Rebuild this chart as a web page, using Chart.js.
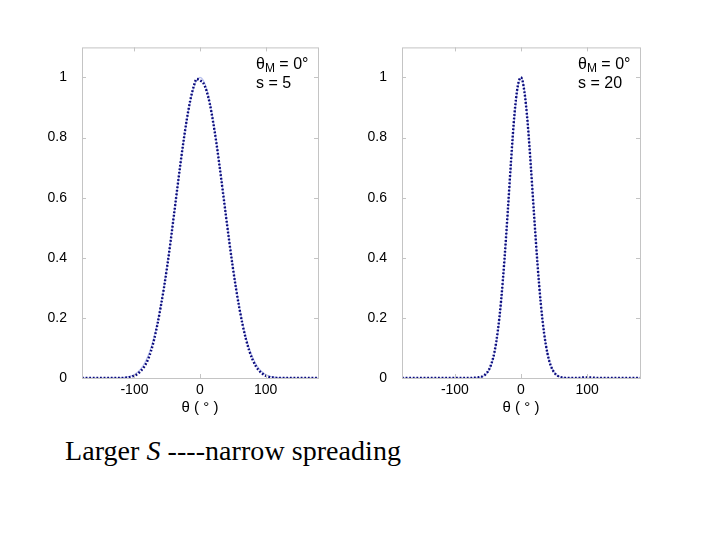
<!DOCTYPE html>
<html lang="en">
<head>
    <meta charset="UTF-8">
    <title>Directional spreading</title>
    <script src="https://cdn.jsdelivr.net/npm/chart.js"></script>
    <style>
        body {
            margin: 0;
            width: 720px;
            height: 540px;
            background: #fff;
            position: relative;
            overflow: hidden;
        }
        .panel {
            position: absolute;
            top: 32px;
            height: 398px;
        }
        #left { left: 30px; width: 300px; }
        #right { left: 350px; width: 302px; }
        .caption {
            position: absolute;
            left: 65px;
            top: 435px;
            font-family: "Liberation Serif", "Times New Roman", serif;
            font-size: 28px;
            letter-spacing: 0.05px;
            color: #000;
            white-space: nowrap;
        }
    </style>
</head>
<body>
    <div class="panel" id="left"><canvas id="chartLeft"></canvas></div>
    <div class="panel" id="right"><canvas id="chartRight"></canvas></div>
    <div class="caption">Larger <i>S</i> ----narrow spreading</div>

    <script>
        // direction angle (degrees)
        var angles = [-180, -175, -170, -165, -160, -155, -150, -145, -140, -135, -130, -125,
            -120, -115, -110, -105, -100, -95, -90, -85, -80, -75, -70, -65, -60, -55, -50,
            -45, -40, -35, -30, -25, -20, -15, -10, -5, 0, 5, 10, 15, 20, 25, 30, 35, 40, 45,
            50, 55, 60, 65, 70, 75, 80, 85, 90, 95, 100, 105, 110, 115, 120, 125, 130, 135,
            140, 145, 150, 155, 160, 165, 170, 175, 180];

        // s = 5 : reference curve (light) and estimate (dotted)
        var s5Theory = [0, 0, 0, 0, 0, 0, 0, 0, 0.0001, 0.0001, 0.0002, 0.0005,
            0.001, 0.002, 0.0039, 0.007, 0.012, 0.0198, 0.0313, 0.0475, 0.0696, 0.0988, 0.136, 0.1821, 0.2373, 0.3015, 0.3737,
            0.4531, 0.5368, 0.6226, 0.7071, 0.7868, 0.8581, 0.9176, 0.9626, 0.9905, 1, 0.9905, 0.9626, 0.9176, 0.8581, 0.7868, 0.7071, 0.6226, 0.5368, 0.4531,
            0.3737, 0.3015, 0.2373, 0.1821, 0.136, 0.0988, 0.0696, 0.0475, 0.0313, 0.0198, 0.012, 0.007, 0.0039, 0.002, 0.001, 0.0005, 0.0002, 0.0001,
            0.0001, 0, 0, 0, 0, 0, 0, 0, 0];
        var s5Estimate = [0, 0, 0, 0, 0, 0, 0, 0, 0, 0, 0, 0,
            0, 0.001, 0.002, 0.004, 0.008, 0.014, 0.024, 0.038, 0.058, 0.088, 0.128, 0.178, 0.236, 0.3, 0.372,
            0.452, 0.538, 0.625, 0.71, 0.79, 0.862, 0.922, 0.967, 0.995, 0.99, 0.982, 0.955, 0.912, 0.852, 0.782, 0.702, 0.618, 0.532, 0.448,
            0.369, 0.297, 0.233, 0.177, 0.13, 0.092, 0.062, 0.04, 0.025, 0.015, 0.008, 0.004, 0.002, 0.001, 0, 0, 0, 0,
            0, 0, 0, 0, 0, 0, 0, 0, 0];

        // s = 20
        var s20Theory = [0, 0, 0, 0, 0, 0, 0, 0, 0, 0, 0, 0,
            0, 0, 0, 0, 0, 0, 0, 0, 0, 0.0001, 0.0003, 0.0011, 0.0032, 0.0083, 0.0195,
            0.0421, 0.083, 0.1503, 0.25, 0.3832, 0.5422, 0.709, 0.8586, 0.9625, 1, 0.9625, 0.8586, 0.709, 0.5422, 0.3832, 0.25, 0.1503, 0.083, 0.0421,
            0.0195, 0.0083, 0.0032, 0.0011, 0.0003, 0.0001, 0, 0, 0, 0, 0, 0, 0, 0, 0, 0, 0, 0,
            0, 0, 0, 0, 0, 0, 0, 0, 0];
        var s20Estimate = [0, 0, 0, 0, 0, 0, 0, 0, 0, 0, 0, 0,
            0, 0, 0, 0, 0, 0, 0, 0, 0, 0, 0.001, 0.002, 0.004, 0.01, 0.022,
            0.046, 0.088, 0.158, 0.26, 0.395, 0.555, 0.725, 0.875, 0.97, 1, 0.955, 0.85, 0.7, 0.535, 0.378, 0.246, 0.148, 0.082, 0.041,
            0.019, 0.008, 0.003, 0.001, 0, 0, 0, 0, 0.001, 0.002, 0.002, 0.002, 0.001, 0, 0, 0, 0, 0,
            0, 0, 0, 0, 0, 0, 0, 0, 0];

        var xTicks = [-100, 0, 100];
        var yTicks = [0, 0.2, 0.4, 0.6, 0.8, 1];

        var sans = '"Liberation Sans", Arial, sans-serif';

        function toPoints(values) {
            return values.map(function (v, i) { return { x: angles[i], y: v }; });
        }

        // box, inward ticks, axis title and the label in the corner
        var framePlugin = {
            id: 'frame',
            afterDraw: function (chart) {
                var ctx = chart.ctx;
                var a = chart.chartArea;
                var xs = chart.scales.x, ys = chart.scales.y;
                ctx.save();
                ctx.strokeStyle = '#c4c4c4';
                ctx.lineWidth = 1;
                ctx.strokeRect(a.left + 0.5, a.top + 0.5, a.right - a.left, a.bottom - a.top);
                ctx.beginPath();
                xTicks.forEach(function (t) {
                    var px = Math.round(xs.getPixelForValue(t)) + 0.5;
                    ctx.moveTo(px, a.bottom); ctx.lineTo(px, a.bottom - 4);
                    ctx.moveTo(px, a.top); ctx.lineTo(px, a.top + 4);
                });
                yTicks.forEach(function (t) {
                    var py = Math.round(ys.getPixelForValue(t)) + 0.5;
                    ctx.moveTo(a.left, py); ctx.lineTo(a.left + 4, py);
                    ctx.moveTo(a.right, py); ctx.lineTo(a.right - 4, py);
                });
                ctx.stroke();

                ctx.fillStyle = '#000';
                ctx.textBaseline = 'middle';
                ctx.textAlign = 'center';
                ctx.font = '15px ' + sans;
                ctx.fillText('\u03b8 ( \u00b0 )', (a.left + a.right) / 2, a.bottom + 30);

                var lx = a.right - 62, ly = a.top + 17;
                ctx.textAlign = 'left';
                ctx.font = '16px ' + sans;
                ctx.fillText('\u03b8', lx, ly);
                var w = ctx.measureText('\u03b8').width;
                ctx.font = '12px ' + sans;
                ctx.fillText('M', lx + w, ly + 4);
                var w2 = ctx.measureText('M').width;
                ctx.font = '16px ' + sans;
                ctx.fillText(' = 0\u00b0', lx + w + w2, ly);
                ctx.fillText(chart.options.plugins.frame.label, lx, ly + 19);
                ctx.restore();
            }
        };

        function makeChart(id, theory, estimate, label) {
            return new Chart(document.getElementById(id), {
                type: 'line',
                data: {
                    datasets: [{
                        // dotted estimate, drawn on top
                        data: toPoints(estimate),
                        borderColor: '#0a0a7c',
                        borderWidth: 2.4,
                        borderDash: [1.8, 1.8],
                        pointRadius: 0,
                        cubicInterpolationMode: 'monotone'
                    }, {
                        data: toPoints(theory),
                        borderColor: '#b9c1ee',
                        borderWidth: 1.2,
                        pointRadius: 0,
                        cubicInterpolationMode: 'monotone'
                    }]
                },
                options: {
                    responsive: true,
                    maintainAspectRatio: false,
                    animation: false,
                    layout: { padding: { top: 4, right: 12, left: 0, bottom: 0 } },
                    plugins: {
                        legend: { display: false },
                        tooltip: { enabled: false },
                        frame: { label: label }
                    },
                    scales: {
                        x: {
                            type: 'linear',
                            min: -180,
                            max: 180,
                            grid: { display: false },
                            border: { display: false },
                            afterBuildTicks: function (s) {
                                s.ticks = xTicks.map(function (v) { return { value: v }; });
                            },
                            afterFit: function (s) { s.height = 52; },
                            ticks: {
                                color: '#000',
                                padding: -4,
                                maxRotation: 0,
                                font: { family: sans, size: 14 }
                            }
                        },
                        y: {
                            min: 0,
                            max: 1.1,
                            grid: { display: false },
                            border: { display: false },
                            afterBuildTicks: function (s) {
                                s.ticks = yTicks.map(function (v) { return { value: v }; });
                            },
                            afterFit: function (s) { s.width = 52; },
                            ticks: {
                                color: '#000',
                                padding: 7,
                                font: { family: sans, size: 14 },
                                callback: function (v) { return String(Math.round(v * 10) / 10); }
                            }
                        }
                    }
                },
                plugins: [framePlugin]
            });
        }

        makeChart('chartLeft', s5Theory, s5Estimate, 's = 5');
        makeChart('chartRight', s20Theory, s20Estimate, 's = 20');
    </script>
</body>
</html>
